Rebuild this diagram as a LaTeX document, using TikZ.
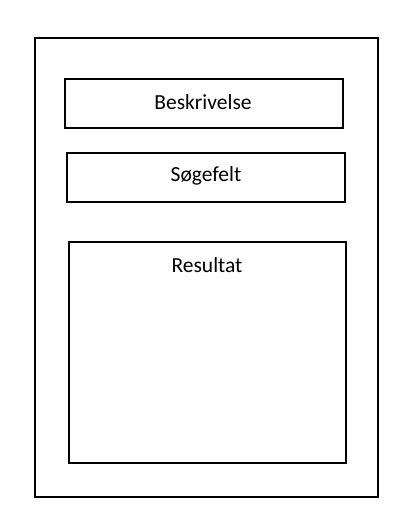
\documentclass[tikz,border=0pt]{standalone}
\usepackage{fontspec}
\setmainfont{Carlito}
\usepackage{tikz}
\usetikzlibrary{calc}

\tikzset{
  panel/.style={draw=black,line width=2pt,inner sep=0pt},
  fieldtext/.style={font=\fontsize{21.5pt}{25pt}\selectfont},
}

\begin{document}
\begin{tikzpicture}[x=1pt,y=-1pt]
\useasboundingbox (0,0) rectangle (417,532);

% Page frame
\draw[panel] (35,38) rectangle (378,497);

% Description field
\draw[panel] (65,79) rectangle (343,128);
\node[fieldtext] (beskrivelse) at (203,102) {Beskrivelse};

% Search field
\draw[panel] (67,153) rectangle (345,202);
\node[fieldtext] (soegefelt) at (206,176) {Søgefelt};

% Result area
\draw[panel] (69,242) rectangle (346,463);
\node[fieldtext] (resultat) at (207,265) {Resultat};
\end{tikzpicture}
\end{document}
